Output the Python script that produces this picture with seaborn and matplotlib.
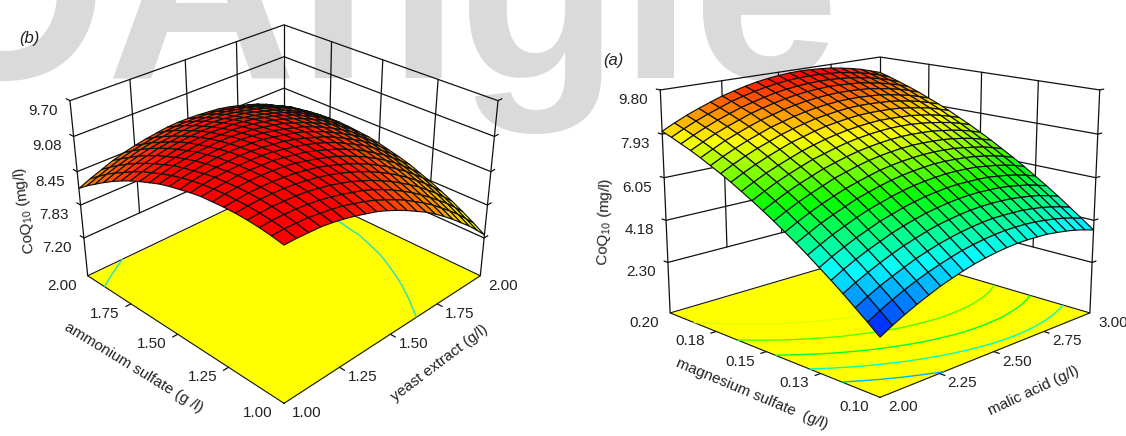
# Two response surface panels (CoQ10 yield) with floor contours
import numpy as np
import matplotlib
matplotlib.use("Agg")  # Non-interactive backend
import matplotlib.pyplot as plt
from mpl_toolkits.mplot3d import proj3d
import seaborn as sns

W, H = 1126, 436

# ── panel (b) data ──
yeast = [1.00, 1.05, 1.10, 1.15, 1.20, 1.25, 1.30, 1.35, 1.40, 1.45, 1.50,
         1.55, 1.60, 1.65, 1.70, 1.75, 1.80, 1.85, 1.90, 1.95, 2.00]
ammonium = [1.00, 1.05, 1.10, 1.15, 1.20, 1.25, 1.30, 1.35, 1.40, 1.45, 1.50,
            1.55, 1.60, 1.65, 1.70, 1.75, 1.80, 1.85, 1.90, 1.95, 2.00]
coq_b = [
    [9.12, 9.12, 9.11, 9.10, 9.07, 9.03, 8.98, 8.92, 8.86, 8.78, 8.69, 8.59, 8.48, 8.37, 8.24, 8.10, 7.95, 7.79, 7.63, 7.45, 7.26],
    [9.16, 9.17, 9.16, 9.15, 9.12, 9.09, 9.05, 8.99, 8.93, 8.86, 8.77, 8.68, 8.58, 8.46, 8.34, 8.21, 8.06, 7.91, 7.75, 7.57, 7.39],
    [9.19, 9.20, 9.20, 9.19, 9.17, 9.14, 9.10, 9.05, 8.99, 8.93, 8.85, 8.76, 8.66, 8.55, 8.43, 8.30, 8.16, 8.01, 7.86, 7.69, 7.51],
    [9.21, 9.22, 9.23, 9.22, 9.21, 9.19, 9.15, 9.11, 9.05, 8.99, 8.91, 8.83, 8.73, 8.63, 8.51, 8.39, 8.26, 8.11, 7.96, 7.79, 7.62],
    [9.22, 9.24, 9.25, 9.25, 9.24, 9.22, 9.19, 9.15, 9.10, 9.04, 8.97, 8.89, 8.80, 8.70, 8.59, 8.47, 8.34, 8.20, 8.05, 7.89, 7.72],
    [9.22, 9.24, 9.26, 9.26, 9.26, 9.24, 9.22, 9.18, 9.14, 9.08, 9.01, 8.94, 8.85, 8.76, 8.65, 8.54, 8.41, 8.28, 8.13, 7.98, 7.81],
    [9.21, 9.24, 9.26, 9.27, 9.27, 9.26, 9.24, 9.21, 9.16, 9.11, 9.05, 8.98, 8.90, 8.81, 8.71, 8.60, 8.48, 8.35, 8.20, 8.05, 7.89],
    [9.20, 9.23, 9.25, 9.27, 9.27, 9.26, 9.25, 9.22, 9.18, 9.14, 9.08, 9.01, 8.94, 8.85, 8.76, 8.65, 8.53, 8.41, 8.27, 8.12, 7.97],
    [9.17, 9.21, 9.24, 9.25, 9.26, 9.26, 9.25, 9.23, 9.19, 9.15, 9.10, 9.04, 8.97, 8.89, 8.79, 8.69, 8.58, 8.46, 8.32, 8.18, 8.03],
    [9.13, 9.18, 9.21, 9.23, 9.24, 9.25, 9.24, 9.22, 9.19, 9.16, 9.11, 9.05, 8.98, 8.91, 8.82, 8.72, 8.61, 8.50, 8.37, 8.23, 8.08],
    [9.09, 9.14, 9.17, 9.20, 9.22, 9.23, 9.22, 9.21, 9.19, 9.15, 9.11, 9.06, 9.00, 8.92, 8.84, 8.74, 8.64, 8.53, 8.41, 8.27, 8.13],
    [9.04, 9.09, 9.13, 9.16, 9.18, 9.19, 9.20, 9.19, 9.17, 9.14, 9.10, 9.05, 8.99, 8.93, 8.85, 8.76, 8.66, 8.55, 8.43, 8.30, 8.17],
    [8.97, 9.03, 9.08, 9.11, 9.14, 9.15, 9.16, 9.16, 9.14, 9.12, 9.08, 9.04, 8.99, 8.92, 8.85, 8.76, 8.67, 8.57, 8.45, 8.33, 8.19],
    [8.90, 8.96, 9.01, 9.05, 9.08, 9.10, 9.12, 9.11, 9.11, 9.09, 9.06, 9.02, 8.97, 8.91, 8.84, 8.76, 8.67, 8.57, 8.46, 8.34, 8.21],
    [8.82, 8.89, 8.94, 8.98, 9.02, 9.05, 9.06, 9.07, 9.06, 9.05, 9.02, 8.99, 8.94, 8.89, 8.82, 8.75, 8.66, 8.57, 8.46, 8.35, 8.22],
    [8.73, 8.80, 8.86, 8.91, 8.95, 8.98, 9.00, 9.01, 9.01, 9.00, 8.98, 8.94, 8.90, 8.85, 8.79, 8.72, 8.64, 8.55, 8.45, 8.34, 8.22],
    [8.63, 8.70, 8.77, 8.82, 8.87, 8.90, 8.92, 8.94, 8.94, 8.94, 8.92, 8.89, 8.86, 8.81, 8.75, 8.69, 8.61, 8.52, 8.43, 8.32, 8.21],
    [8.52, 8.60, 8.67, 8.73, 8.78, 8.81, 8.84, 8.86, 8.87, 8.87, 8.86, 8.84, 8.80, 8.76, 8.71, 8.65, 8.58, 8.50, 8.41, 8.30, 8.19],
    [8.40, 8.49, 8.56, 8.62, 8.68, 8.72, 8.75, 8.78, 8.79, 8.79, 8.78, 8.77, 8.74, 8.70, 8.66, 8.60, 8.53, 8.46, 8.37, 8.27, 8.16],
    [8.28, 8.36, 8.44, 8.51, 8.57, 8.61, 8.65, 8.68, 8.70, 8.70, 8.70, 8.69, 8.67, 8.63, 8.59, 8.54, 8.48, 8.40, 8.32, 8.23, 8.13],
    [8.14, 8.23, 8.31, 8.39, 8.45, 8.50, 8.54, 8.57, 8.60, 8.61, 8.61, 8.60, 8.58, 8.56, 8.52, 8.47, 8.41, 8.35, 8.27, 8.17, 8.08],
]
z_ticks_b = [7.20, 7.83, 8.45, 9.08, 9.70]
z_labels_b = ["7.20", "7.83", "8.45", "9.08", "9.70"]
x_ticks_b = [1.00, 1.25, 1.50, 1.75, 2.00]
x_labels_b = ["1.00", "1.25", "1.50", "1.75", "2.00"]
y_ticks_b = [1.00, 1.25, 1.50, 1.75, 2.00]
y_labels_b = ["1.00", "1.25", "1.50", "1.75", "2.00"]
contour_levels_b = [8.40]

# ── panel (a) data ──
malic = [2.00, 2.05, 2.10, 2.15, 2.20, 2.25, 2.30, 2.35, 2.40, 2.45, 2.50,
         2.55, 2.60, 2.65, 2.70, 2.75, 2.80, 2.85, 2.90, 2.95, 3.00]
magnesium = [0.100, 0.105, 0.110, 0.115, 0.120, 0.125, 0.130, 0.135, 0.140, 0.145, 0.150,
             0.155, 0.160, 0.165, 0.170, 0.175, 0.180, 0.185, 0.190, 0.195, 0.200]
coq_a = [
    [2.35, 2.63, 2.89, 3.12, 3.33, 3.53, 3.69, 3.84, 3.97, 4.07, 4.15, 4.21, 4.25, 4.26, 4.25, 4.23, 4.17, 4.10, 4.01, 3.89, 3.75],
    [2.76, 3.04, 3.30, 3.53, 3.74, 3.93, 4.09, 4.24, 4.37, 4.47, 4.55, 4.61, 4.65, 4.66, 4.65, 4.62, 4.56, 4.49, 4.40, 4.28, 4.14],
    [3.15, 3.43, 3.69, 3.91, 4.12, 4.32, 4.48, 4.63, 4.75, 4.85, 4.93, 4.99, 5.03, 5.03, 5.02, 5.00, 4.94, 4.87, 4.77, 4.65, 4.51],
    [3.54, 3.82, 4.07, 4.30, 4.51, 4.70, 4.86, 5.01, 5.14, 5.23, 5.31, 5.37, 5.40, 5.41, 5.40, 5.37, 5.31, 5.24, 5.15, 5.02, 4.88],
    [3.91, 4.19, 4.44, 4.67, 4.87, 5.07, 5.23, 5.37, 5.50, 5.59, 5.67, 5.73, 5.76, 5.77, 5.75, 5.73, 5.67, 5.59, 5.50, 5.37, 5.23],
    [4.26, 4.54, 4.79, 5.02, 5.22, 5.42, 5.57, 5.72, 5.84, 5.94, 6.01, 6.07, 6.10, 6.10, 6.09, 6.07, 6.00, 5.93, 5.83, 5.71, 5.56],
    [4.61, 4.88, 5.14, 5.36, 5.57, 5.76, 5.91, 6.06, 6.18, 6.28, 6.35, 6.40, 6.44, 6.44, 6.43, 6.40, 6.33, 6.26, 6.16, 6.04, 5.89],
    [4.94, 5.21, 5.47, 5.69, 5.89, 6.09, 6.24, 6.38, 6.50, 6.60, 6.67, 6.72, 6.76, 6.76, 6.74, 6.71, 6.65, 6.57, 6.47, 6.35, 6.20],
    [5.25, 5.52, 5.77, 6.00, 6.20, 6.39, 6.54, 6.68, 6.81, 6.90, 6.97, 7.02, 7.05, 7.06, 7.04, 7.01, 6.94, 6.86, 6.77, 6.64, 6.49],
    [5.56, 5.83, 6.08, 6.30, 6.50, 6.70, 6.85, 6.99, 7.11, 7.20, 7.27, 7.32, 7.35, 7.35, 7.33, 7.30, 7.24, 7.16, 7.06, 6.93, 6.78],
    [5.85, 6.12, 6.37, 6.59, 6.79, 6.98, 7.13, 7.27, 7.39, 7.48, 7.55, 7.60, 7.63, 7.63, 7.61, 7.58, 7.51, 7.43, 7.33, 7.20, 7.05],
    [6.13, 6.40, 6.65, 6.87, 7.07, 7.26, 7.40, 7.54, 7.66, 7.75, 7.82, 7.87, 7.90, 7.90, 7.88, 7.84, 7.77, 7.69, 7.59, 7.46, 7.31],
    [6.39, 6.66, 6.91, 7.12, 7.32, 7.51, 7.66, 7.80, 7.91, 8.00, 8.07, 8.12, 8.15, 8.14, 8.12, 8.09, 8.02, 7.94, 7.83, 7.70, 7.55],
    [6.65, 6.92, 7.16, 7.38, 7.58, 7.77, 7.91, 8.05, 8.17, 8.25, 8.32, 8.37, 8.39, 8.39, 8.37, 8.34, 8.26, 8.18, 8.08, 7.94, 7.79],
    [6.89, 7.16, 7.40, 7.62, 7.81, 8.00, 8.15, 8.28, 8.40, 8.48, 8.55, 8.60, 8.62, 8.62, 8.59, 8.56, 8.49, 8.40, 8.30, 8.16, 8.01],
    [7.11, 7.38, 7.62, 7.84, 8.03, 8.22, 8.36, 8.50, 8.61, 8.70, 8.76, 8.81, 8.83, 8.83, 8.80, 8.77, 8.69, 8.60, 8.50, 8.36, 8.21],
    [7.33, 7.59, 7.84, 8.05, 8.25, 8.43, 8.57, 8.71, 8.82, 8.91, 8.97, 9.01, 9.04, 9.03, 9.01, 8.97, 8.89, 8.81, 8.70, 8.57, 8.41],
    [7.53, 7.79, 8.04, 8.25, 8.44, 8.63, 8.77, 8.90, 9.01, 9.10, 9.16, 9.20, 9.23, 9.22, 9.19, 9.16, 9.08, 8.99, 8.88, 8.75, 8.59],
    [7.71, 7.97, 8.21, 8.43, 8.62, 8.80, 8.94, 9.07, 9.19, 9.27, 9.33, 9.37, 9.39, 9.39, 9.36, 9.32, 9.24, 9.16, 9.05, 8.91, 8.75],
    [7.89, 8.15, 8.39, 8.60, 8.79, 8.98, 9.12, 9.25, 9.36, 9.44, 9.50, 9.54, 9.56, 9.55, 9.52, 9.49, 9.41, 9.32, 9.21, 9.07, 8.91],
    [8.05, 8.31, 8.55, 8.76, 8.95, 9.13, 9.27, 9.40, 9.51, 9.59, 9.65, 9.69, 9.71, 9.70, 9.67, 9.63, 9.55, 9.46, 9.35, 9.20, 9.05],
]
z_ticks_a = [2.30, 4.18, 6.05, 7.93, 9.80]
z_labels_a = ["2.30", "4.18", "6.05", "7.93", "9.80"]
x_ticks_a = [2.00, 2.25, 2.50, 2.75, 3.00]
x_labels_a = ["2.00", "2.25", "2.50", "2.75", "3.00"]
y_ticks_a = [0.100, 0.125, 0.150, 0.175, 0.200]
y_labels_a = ["0.10", "0.13", "0.15", "0.18", "0.20"]
contour_levels_a = [3.6, 4.6, 5.6, 6.6, 7.6]

sns.set_style("white")
plt.rcParams["font.family"] = ["Liberation Sans", "DejaVu Sans"]
plt.rcParams["mathtext.default"] = "regular"

surface_cmap = sns.blend_palette(
    ["#0000ff", "#00ffff", "#00ff00", "#ffff00", "#ff0000"], n_colors=256, as_cmap=True
)
LINE = "#111111"
TEXT = "#222222"


def fig_text(fig, px, py, s, **kw):
    fig.text(px / W, 1 - py / H, s, ha="center", va="center", color=TEXT, **kw)


def put_label(ax, x, y, z, s, dx, dy, fs=11):
    # tick label placed from the projected data point
    xp, yp, _ = proj3d.proj_transform(x, y, z, ax.get_proj())
    ax.annotate(s, (xp, yp), xytext=(dx, dy), textcoords="offset pixels",
                ha="center", va="center", fontsize=fs, color=TEXT, annotation_clip=False)


def draw_panel(fig, cx, cy, xs, ys, zz, x_ticks, x_labels, y_ticks, y_labels, z_ticks, z_labels,
               floor_z, top_z, vmin, vmax, elev, box_z, zoom, focal, levels, level_colors):
    S = 560
    left = cx - 0.5135 * S
    bottom = (H - cy) - 0.5135 * S
    ax = fig.add_axes([left / W, bottom / H, S / W, S / H], projection="3d", computed_zorder=False)
    ax.set_axis_off()
    ax.patch.set_alpha(0)
    ax.view_init(elev=elev, azim=-135)
    ax.set_proj_type("persp", focal_length=focal)
    ax.set_box_aspect((1, 1, box_z), zoom=zoom)

    X, Y = np.meshgrid(xs, ys)
    Z = np.array(zz)
    x0, x1, y0, y1 = xs[0], xs[-1], ys[0], ys[-1]
    dx, dy = (x1 - x0) * 0.022, (y1 - y0) * 0.022
    kw = dict(color=LINE, lw=0.9, zorder=1)

    # back walls
    for z in z_ticks:
        ax.plot([x0, x1, x1], [y1, y1, y0], [z, z, z], **kw)
        ax.plot([x0, x0], [y1, y1 + dy], [z, z], **kw)
        ax.plot([x1, x1 + dx], [y0, y0], [z, z], **kw)
    for t in x_ticks[1:-1]:
        ax.plot([t, t], [y1, y1], [z_ticks[0], top_z], **kw)
    for t in y_ticks[1:-1]:
        ax.plot([x1, x1], [t, t], [z_ticks[0], top_z], **kw)
    ax.plot([x0, x0], [y1, y1], [floor_z, top_z], **kw)
    ax.plot([x1, x1], [y0, y0], [floor_z, top_z], **kw)
    ax.plot([x1, x1], [y1, y1], [z_ticks[0], top_z], **kw)

    # floor with its contours
    ax.plot_surface(np.array([[x0, x1], [x0, x1]]), np.array([[y0, y0], [y1, y1]]),
                    np.full((2, 2), floor_z), color="#ffff00", shade=False, zorder=2,
                    linewidth=0, antialiased=False)
    ax.plot([x0, x1, x1, x0, x0], [y0, y0, y1, y1, y0], [floor_z] * 5, color=LINE, lw=0.8, zorder=3)
    for t in x_ticks[1:-1]:
        ax.plot([t, t], [y0, y0 - dy], [floor_z, floor_z], color=LINE, lw=0.9, zorder=3)
    for t in y_ticks[1:-1]:
        ax.plot([x0, x0 - dx], [t, t], [floor_z, floor_z], color=LINE, lw=0.9, zorder=3)
    if level_colors is None:
        ax.contour(X, Y, Z, levels=levels, zdir="z", offset=floor_z, cmap=surface_cmap,
                   vmin=vmin, vmax=vmax, linewidths=1.0, zorder=3)
    else:
        ax.contour(X, Y, Z, levels=levels, zdir="z", offset=floor_z, colors=level_colors,
                   linewidths=1.0, zorder=3)

    # the response surface
    ax.plot_surface(X, Y, Z, rstride=1, cstride=1, cmap=surface_cmap, vmin=vmin, vmax=vmax,
                    edgecolor="#101010", linewidth=0.85, shade=False, antialiased=True, zorder=4)

    ax.set_xlim(x0, x1, view_margin=0)
    ax.set_ylim(y0, y1, view_margin=0)
    ax.set_zlim(floor_z, top_z, view_margin=0)

    for t, s in zip(z_ticks, z_labels):
        put_label(ax, x0, y1, t, s, -27, -10)
    for t, s in zip(y_ticks, y_labels):
        put_label(ax, x0, t, floor_z, s, -26, -10)
    for t, s in zip(x_ticks, x_labels):
        put_label(ax, t, y0, floor_z, s, 23, -10)
    return ax


fig = plt.figure(figsize=(W / 100, H / 100), dpi=100, facecolor="white")

# watermark behind both panels
fig.text(840 / W, 1 - 78 / H, "OAngle", ha="right", va="baseline", fontsize=190,
         fontweight="bold", color="#dadada", zorder=-5)

draw_panel(fig, 284, 192, yeast, ammonium, coq_b, x_ticks_b, x_labels_b, y_ticks_b, y_labels_b,
           z_ticks_b, z_labels_b, floor_z=6.45, top_z=9.70, vmin=2.9, vmax=9.1,
           elev=29, box_z=0.69, zoom=0.79, focal=0.37,
           levels=contour_levels_b, level_colors=["#20e0c8"])
draw_panel(fig, 880, 204, malic, magnesium, coq_a, x_ticks_a, x_labels_a, y_ticks_a, y_labels_a,
           z_ticks_a, z_labels_a, floor_z=0.0, top_z=9.80, vmin=2.3, vmax=9.7,
           elev=15, box_z=0.76, zoom=0.845, focal=0.43,
           levels=contour_levels_a, level_colors=None)

# axis titles, panel (b)
fig_text(fig, 134, 368, "ammonium sulfate (g /l)", fontsize=11, rotation=-31.5)
fig_text(fig, 440, 363, "yeast extract (g/l)", fontsize=11, rotation=37)
fig_text(fig, 25, 210, "CoQ$_{10}$ (mg/l)", fontsize=11, rotation=97)
fig_text(fig, 29, 38, "(b)", fontsize=12, style="italic")

# axis titles, panel (a)
fig_text(fig, 752, 394, "magnesium sulfate  (g/l)", fontsize=11, rotation=-22.7)
fig_text(fig, 1034, 391, "malic acid (g/l)", fontsize=11, rotation=25)
fig_text(fig, 605, 222, "CoQ$_{10}$ (mg/l)", fontsize=11, rotation=88)
fig_text(fig, 613, 60, "(a)", fontsize=12, style="italic")

plt.savefig("out.png", dpi=100)
plt.close()
